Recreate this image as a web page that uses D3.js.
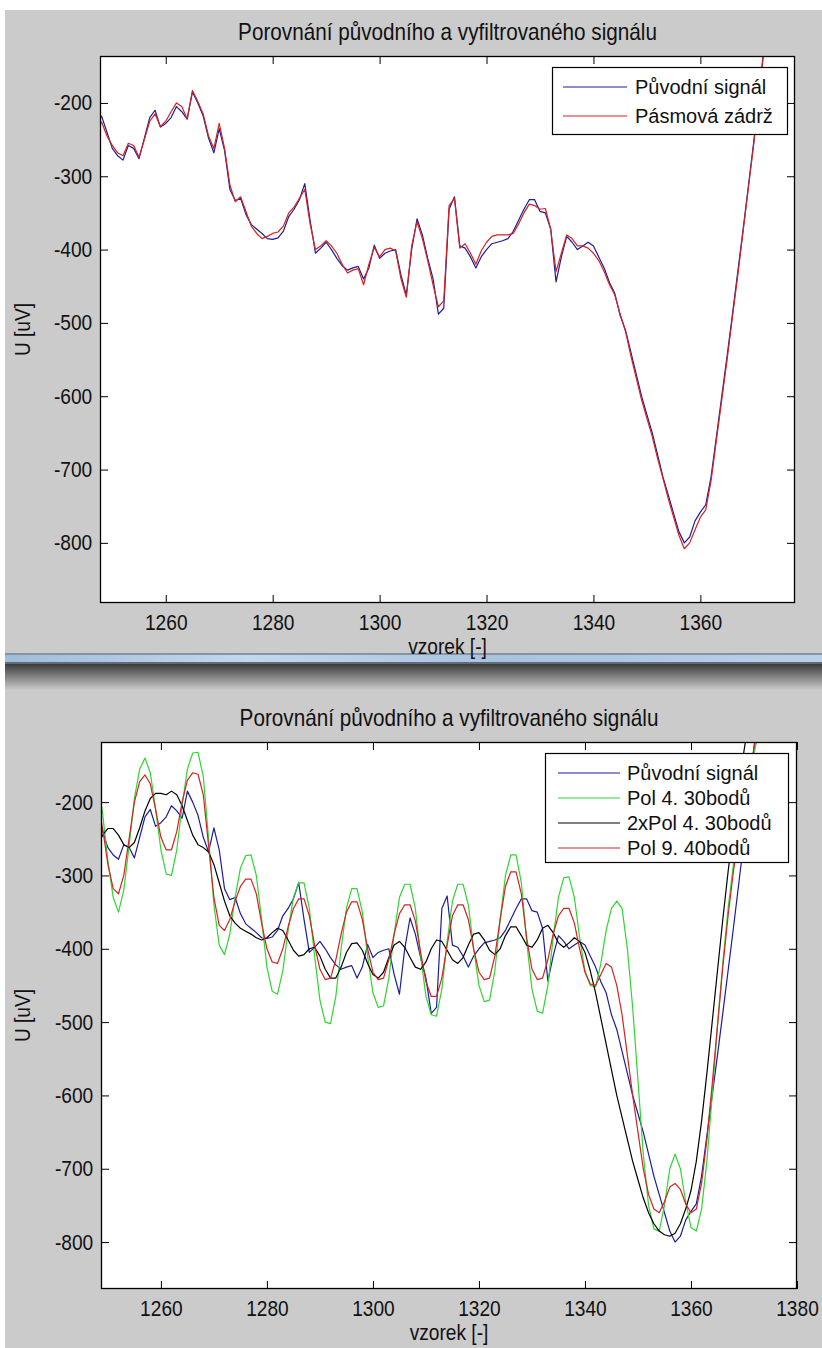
<!DOCTYPE html>
<html>
<head>
<meta charset="utf-8">
<script src="https://cdn.jsdelivr.net/npm/d3@7"></script>
<style>
  body { margin: 0; background: #fff; }
  svg { display: block; }
</style>
</head>
<body>
<div id="chart"></div>
<script>
// sample numbers (x axis)
const samples = d3.range(1247, 1375);

// original signal (both panels)
const original = [
  -230, -218, -240, -262, -272, -278, -258, -262, -276, -248,
  -220, -210, -233, -228, -220, -205, -212, -222, -185, -200,
  -218, -248, -268, -235, -265, -318, -333, -330, -352, -366,
  -372, -378, -385, -386, -384, -375, -355, -345, -332, -310,
  -360, -405, -398, -390, -400, -412, -422, -428, -425, -423,
  -440, -425, -394, -412, -405, -402, -400, -435, -462, -400,
  -358, -380, -412, -440, -488, -480, -345, -328, -395, -398,
  -410, -425, -410, -400, -392, -390, -388, -385, -375, -360,
  -345, -332, -332, -348, -350, -372, -444, -410, -382, -390,
  -400, -395, -390, -395, -410, -425, -445, -460, -490, -510,
  -540, -570, -600, -625, -650, -680, -710, -735, -760, -785,
  -800, -792, -770, -758, -748, -710, -655, -600, -545, -488,
  -430, -372, -312, -252, -185, -118, -55, 5
];

// band-stop filtered (top panel)
const bandStop = [
  -240, -226, -245, -258, -268, -272, -255, -258, -274, -250,
  -225, -215, -232, -225, -212, -200, -205, -222, -183, -198,
  -215, -245, -262, -228, -262, -312, -335, -328, -348, -368,
  -378, -385, -382, -378, -376, -368, -350, -342, -330, -318,
  -365, -400, -395, -388, -395, -405, -420, -432, -428, -426,
  -448, -420, -397, -410, -400, -398, -402, -440, -465, -395,
  -362, -385, -415, -448, -478, -470, -340, -330, -398, -392,
  -405, -420, -402, -390, -382, -380, -380, -380, -378, -365,
  -350, -338, -340, -345, -344, -372, -430, -405, -380, -385,
  -395, -395, -398, -405, -415, -430, -448, -462, -488, -512,
  -545, -575, -605, -630, -655, -685, -712, -740, -765, -790,
  -808, -800, -782, -765, -755, -715, -660, -605, -550, -492,
  -435, -375, -315, -255, -188, -120, -58, 0
];

// Pol 4. 30bodů
const pol4 = [
  -140, -170, -215, -280, -330, -350, -320, -260, -195, -155,
  -140, -160, -210, -265, -298, -300, -265, -205, -155, -133,
  -132, -165, -250, -340, -395, -408, -380, -330, -290, -273,
  -272, -300, -360, -425, -458, -462, -430, -375, -330, -310,
  -310, -345, -410, -470, -500, -502, -465, -400, -345, -318,
  -318, -350, -410, -460, -480, -478, -440, -380, -330, -312,
  -312, -345, -410, -465, -490, -492, -455, -390, -335, -312,
  -312, -340, -400, -450, -472, -470, -430, -360, -300, -272,
  -272, -310, -390, -455, -485, -488, -450, -385, -330, -303,
  -302, -330, -385, -430, -450, -452, -420, -375, -345, -335,
  -345, -400, -480, -580, -680, -750, -782, -785, -750, -700,
  -680, -700, -745, -780, -785, -755, -690, -600, -505, -420,
  -345, -285, -235, -195, -160, -130, -95, -60
];

// 2xPol 4. 30bodů
const pol4x2 = [
  -265, -262, -245, -236, -236, -245, -258, -262, -255, -235,
  -212, -195, -188, -188, -190, -185, -190, -205, -225, -245,
  -258, -262, -268, -285, -310, -335, -355, -365, -372, -376,
  -380, -385, -388, -385, -378, -372, -375, -388, -402, -410,
  -408, -400, -398, -410, -428, -440, -440, -425, -405, -393,
  -392, -402, -420, -435, -440, -432, -412, -395, -390, -398,
  -412, -425, -428, -418, -400, -388, -390, -402, -415, -420,
  -412, -395, -380, -378, -388, -402, -408, -400, -382, -370,
  -370, -382, -395, -398, -388, -372, -368, -378, -392, -398,
  -392, -385, -390, -405, -430, -460, -495, -530, -565, -600,
  -630, -660, -690, -715, -740, -760, -775, -785, -790, -792,
  -788, -775, -755, -730, -690, -635, -570, -500, -430, -360,
  -295, -235, -180, -130, -85, -40, 0, 40
];

// Pol 9. 40bodů
const pol9 = [
  -175, -200, -235, -285, -318, -325, -300, -250, -200, -172,
  -163, -175, -210, -248, -265, -265, -240, -200, -170, -160,
  -162, -190, -260, -330, -368, -375, -360, -335, -315, -305,
  -305, -325, -365, -400, -418, -420, -400, -370, -345, -332,
  -332, -355, -395, -428, -442, -440, -415, -380, -350, -336,
  -336, -360, -400, -432, -442, -440, -415, -380, -352, -340,
  -340, -362, -405, -445, -465, -465, -440, -395, -355, -340,
  -340, -360, -400, -432, -442, -440, -410, -360, -315, -295,
  -295, -325, -385, -428, -442, -440, -415, -380, -355, -345,
  -345, -365, -400, -432, -448, -450, -435, -420, -425, -450,
  -490, -545, -600, -650, -700, -735, -755, -760, -745, -725,
  -720, -728, -748, -760, -755, -720, -660, -585, -505, -425,
  -355, -295, -245, -200, -160, -122, -85, -50
];

const yTicks = [-200, -300, -400, -500, -600, -700, -800];
const xTicksTop = [1260, 1280, 1300, 1320, 1340, 1360];
const xTicksBottom = [1260, 1280, 1300, 1320, 1340, 1360, 1380];

const titleText = "Porovnání původního a vyfiltrovaného signálu";
const xLabelText = "vzorek [-]";
const yLabelText = "U [uV]";

const colors = { blue: "#1c1c9c", red: "#d42222", green: "#2fd62f", black: "#000000" };

const W = 822, H = 1348;
const FONT = "'Liberation Sans', Arial, sans-serif";
const SQUEEZE = 0.87; // the MATLAB font is narrower than Liberation Sans

const svg = d3.select("#chart").append("svg")
    .attr("width", W)
    .attr("height", H);

const defs = svg.append("defs");

// background: two window screenshots
svg.append("rect").attr("width", W).attr("height", H).attr("fill", "#fff");
svg.append("rect").attr("x", 5).attr("y", 10).attr("width", W - 5).attr("height", 645).attr("fill", "#cbcbcb");
svg.append("rect").attr("x", 5).attr("y", 655).attr("width", W - 5).attr("height", H - 655).attr("fill", "#cbcbcb");

const band = defs.append("linearGradient").attr("id", "band").attr("x1", 0).attr("x2", 1);
band.append("stop").attr("offset", 0).attr("stop-color", "#9fbcd8");
band.append("stop").attr("offset", 0.3).attr("stop-color", "#c4d8ec");
band.append("stop").attr("offset", 0.6).attr("stop-color", "#a9c3de");
band.append("stop").attr("offset", 1).attr("stop-color", "#b9d0e8");
const shade = defs.append("linearGradient").attr("id", "shade").attr("x1", 0).attr("x2", 0).attr("y1", 0).attr("y2", 1);
shade.append("stop").attr("offset", 0).attr("stop-color", "#3c3c3c");
shade.append("stop").attr("offset", 1).attr("stop-color", "#cbcbcb");

svg.append("rect").attr("x", 5).attr("y", 653).attr("width", W - 5).attr("height", 2).attr("fill", "#8593a4");
svg.append("rect").attr("x", 5).attr("y", 655).attr("width", W - 5).attr("height", 7).attr("fill", "url(#band)");
svg.append("rect").attr("x", 5).attr("y", 662).attr("width", W - 5).attr("height", 2).attr("fill", "#5f6b78");
svg.append("rect").attr("x", 5).attr("y", 664).attr("width", W - 5).attr("height", 26).attr("fill", "url(#shade)");

function drawPanel(p) {
  const x = d3.scaleLinear().domain(p.xDomain).range([p.left, p.right]);
  const y = d3.scaleLinear().domain(p.yDomain).range([p.bottom, p.top]);
  const g = svg.append("g");

  g.append("rect")
    .attr("x", p.left).attr("y", p.top)
    .attr("width", p.right - p.left).attr("height", p.bottom - p.top)
    .attr("fill", "#fff");

  defs.append("clipPath").attr("id", p.id + "-clip")
    .append("rect")
    .attr("x", p.left).attr("y", p.top)
    .attr("width", p.right - p.left).attr("height", p.bottom - p.top);

  const line = d3.line()
      .x((d, i) => x(samples[i]))
      .y(d => y(d));

  const lines = g.append("g").attr("clip-path", "url(#" + p.id + "-clip)");
  p.series.forEach(s => {
    lines.append("path")
      .datum(s.values)
      .attr("fill", "none")
      .attr("stroke", s.color)
      .attr("stroke-width", 1.2)
      .attr("stroke-linejoin", "round")
      .attr("d", line);
  });

  const plain = d => String(d); // "1260", "-200" with a plain hyphen

  // axes, ticks inward on all four sides
  const axB = g.append("g").attr("transform", "translate(0," + p.bottom + ")")
    .call(d3.axisBottom(x).tickValues(p.xTicks).tickSizeInner(-8).tickSizeOuter(0).tickPadding(11).tickFormat(plain));
  const axT = g.append("g").attr("transform", "translate(0," + p.top + ")")
    .call(d3.axisTop(x).tickValues(p.xTicks).tickSizeInner(-8).tickSizeOuter(0).tickFormat(""));
  const axL = g.append("g").attr("transform", "translate(" + p.left + ",0)")
    .call(d3.axisLeft(y).tickValues(yTicks).tickSizeInner(-8).tickSizeOuter(0).tickPadding(9).tickFormat(plain));
  const axR = g.append("g").attr("transform", "translate(" + p.right + ",0)")
    .call(d3.axisRight(y).tickValues(yTicks).tickSizeInner(-8).tickSizeOuter(0).tickFormat(""));

  [axB, axT, axL, axR].forEach(a => {
    a.select(".domain").remove();
    a.selectAll("line").attr("stroke", "#000");
    a.selectAll("text")
      .attr("fill", "#111")
      .attr("transform", "scale(" + SQUEEZE + ",1)")
      .style("font-family", FONT)
      .style("font-size", "22px");
  });

  g.append("rect")
    .attr("x", p.left + 0.5).attr("y", p.top + 0.5)
    .attr("width", p.right - p.left - 1).attr("height", p.bottom - p.top - 1)
    .attr("fill", "none").attr("stroke", "#000").attr("stroke-width", 1.3);

  const cx = (p.left + p.right) / 2;
  g.append("text")
    .attr("transform", "translate(" + cx + "," + (p.top - 24) + ") scale(0.9,1)")
    .attr("text-anchor", "middle").attr("dominant-baseline", "central")
    .style("font-family", FONT).style("font-size", "23px").attr("fill", "#111")
    .text(titleText);

  g.append("text")
    .attr("transform", "translate(" + cx + "," + (p.bottom + 43) + ") scale(" + SQUEEZE + ",1)")
    .attr("text-anchor", "middle").attr("dominant-baseline", "central")
    .style("font-family", FONT).style("font-size", "22px").attr("fill", "#111")
    .text(xLabelText);

  g.append("text")
    .attr("transform", "translate(22," + (p.top + p.bottom) / 2 + ") rotate(-90) scale(" + SQUEEZE + ",1)")
    .attr("text-anchor", "middle").attr("dominant-baseline", "central")
    .style("font-family", FONT).style("font-size", "22px").attr("fill", "#111")
    .text(yLabelText);

  // legend
  const L = p.legend;
  const leg = g.append("g");
  leg.append("rect")
    .attr("x", L.x + 0.5).attr("y", L.y + 0.5)
    .attr("width", L.w).attr("height", L.h)
    .attr("fill", "#fff").attr("stroke", "#000").attr("stroke-width", 1.2);
  p.series.forEach((s, i) => {
    const ry = L.y + L.first + i * L.step;
    leg.append("line")
      .attr("x1", L.x + L.lx0).attr("x2", L.x + L.lx1)
      .attr("y1", ry).attr("y2", ry)
      .attr("stroke", s.color).attr("stroke-width", 1.2);
    leg.append("text")
      .attr("x", L.x + L.tx).attr("y", ry)
      .attr("dominant-baseline", "central")
      .style("font-family", FONT).style("font-size", "20px")
      .attr("fill", "#111")
      .text(s.name);
  });
}

drawPanel({
  id: "top",
  left: 100, right: 795, top: 56, bottom: 603,
  xDomain: [1247.7, 1377.7], yDomain: [-882, -136],
  xTicks: xTicksTop,
  series: [
    { name: "Původní signál", values: original, color: colors.blue },
    { name: "Pásmová zádrž", values: bandStop, color: colors.red }
  ],
  legend: { x: 552, y: 67, w: 235, h: 67, first: 20, step: 29, lx0: 11, lx1: 75, tx: 83 }
});

drawPanel({
  id: "bottom",
  left: 101, right: 797, top: 742, bottom: 1289,
  xDomain: [1248.7, 1380], yDomain: [-864, -118],
  xTicks: xTicksBottom,
  series: [
    { name: "Původní signál", values: original, color: colors.blue },
    { name: "Pol 4. 30bodů", values: pol4, color: colors.green },
    { name: "2xPol 4. 30bodů", values: pol4x2, color: colors.black },
    { name: "Pol 9. 40bodů", values: pol9, color: colors.red }
  ],
  legend: { x: 545, y: 753, w: 243, h: 109, first: 20, step: 25, lx0: 13, lx1: 75, tx: 82 }
});
</script>
</body>
</html>
